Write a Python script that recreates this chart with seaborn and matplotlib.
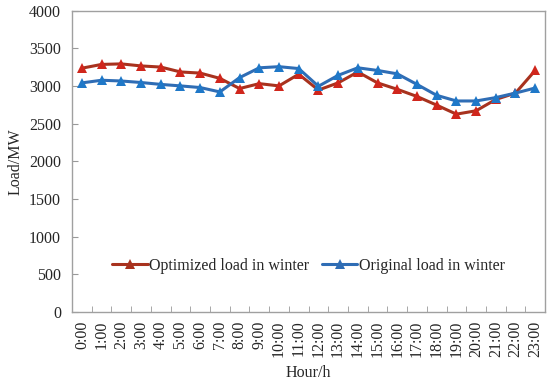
import matplotlib
matplotlib.use("Agg")
import matplotlib.pyplot as plt
import seaborn as sns
import pandas as pd
from matplotlib.ticker import FixedLocator, MultipleLocator

# data
hours = [f"{h}:00" for h in range(24)]
optimized = [3235, 3285, 3292, 3265, 3250, 3185, 3170, 3100, 2965, 3030,
             3000, 3155, 2945, 3040, 3185, 3040, 2955, 2860, 2745, 2625,
             2670, 2820, 2905, 3205]
original = [3040, 3075, 3065, 3045, 3020, 3000, 2978, 2920, 3110, 3240,
            3255, 3230, 2995, 3140, 3240, 3205, 3160, 3020, 2875, 2800,
            2800, 2845, 2905, 2972]

lab_opt = "Optimized load in winter"
lab_org = "Original load in winter"

df = pd.DataFrame({
    "pos": list(range(24)) * 2,
    "load": optimized + original,
    "series": [lab_opt] * 24 + [lab_org] * 24,
})

sns.set_style("white")
plt.rcParams["font.family"] = ["Liberation Serif", "DejaVu Serif"]

fig = plt.figure(figsize=(5.5, 3.9), dpi=100)
ax = fig.add_axes([0.131, 0.2, 0.86, 0.773])

palette = {lab_opt: "#A8321E", lab_org: "#2F6DB5"}
sns.lineplot(data=df, x="pos", y="load", hue="series", style="series",
             markers={lab_opt: "^", lab_org: "^"}, dashes=False,
             palette=palette, linewidth=2.2, markersize=7,
             markeredgewidth=0, ax=ax)

# recolor markers a bit brighter than the line
for line, mc in zip(ax.lines, ["#D0261C", "#1F78C8"]):
    line.set_markerfacecolor(mc)

ax.set_xlim(-0.5, 23.5)
ax.set_ylim(0, 4000)
ax.yaxis.set_major_locator(MultipleLocator(500))
ax.set_xticks(range(24))
ax.set_xticklabels(hours, rotation=90)
ax.xaxis.set_minor_locator(FixedLocator([i + 0.5 for i in range(-1, 24)]))
ax.tick_params(axis="x", which="major", length=0, labelsize=11.5, pad=6)
ax.tick_params(axis="x", which="minor", direction="in", length=4,
               color="#999999", bottom=True)
ax.tick_params(axis="y", direction="in", length=4, color="#999999",
               labelsize=11.5, left=True, pad=8)

for sp in ax.spines.values():
    sp.set_color("#A0A0A0")
    sp.set_linewidth(1.0)

ax.set_xlabel("Hour/h", fontsize=11.5, labelpad=6)
ax.set_ylabel("Load/MW", fontsize=11.5, labelpad=4)

leg = ax.legend(loc="center", bbox_to_anchor=(0.5, 0.153), ncol=2,
                frameon=False, fontsize=11.5, handlelength=2.2,
                handletextpad=0.1, columnspacing=0.8)

fig.savefig("out.png", dpi=100)
